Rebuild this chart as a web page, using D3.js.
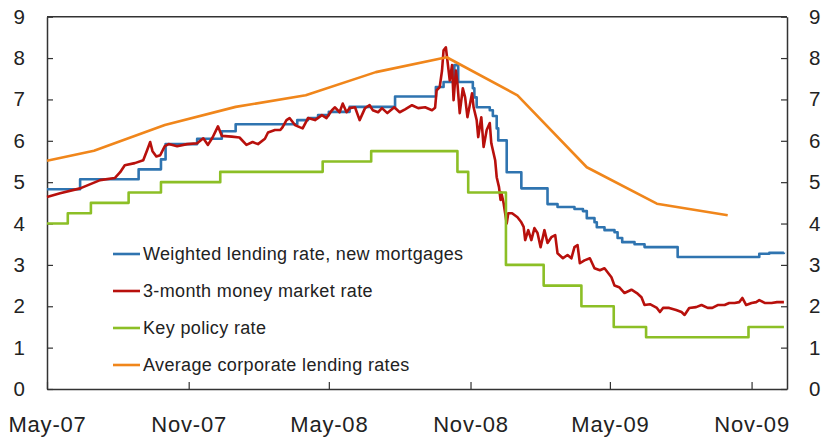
<!DOCTYPE html>
<html>
<head>
<meta charset="utf-8">
<script src="https://cdnjs.cloudflare.com/ajax/libs/d3/7.8.5/d3.min.js"></script>
<style>
  body { margin: 0; background: #fff; }
  svg { display: block; font-family: "Liberation Sans", Arial, sans-serif; }
</style>
</head>
<body>
<svg id="chart" width="825" height="443"></svg>
<script>
// Series data: [date, value]
const mortgageRate = [
  ["2007-05-01", 4.83], ["2007-06-13", 5.07], ["2007-08-28", 5.31], ["2007-09-26", 5.55],
  ["2007-10-02", 5.92], ["2007-11-12", 6.05], ["2007-12-14", 6.23], ["2008-01-01", 6.40],
  ["2008-03-21", 6.50], ["2008-04-04", 6.55], ["2008-04-17", 6.62], ["2008-05-01", 6.70],
  ["2008-05-28", 6.82], ["2008-07-26", 7.07], ["2008-09-17", 7.30], ["2008-09-27", 7.42],
  ["2008-10-11", 7.83], ["2008-10-16", 7.42], ["2008-11-04", 7.27], ["2008-11-06", 7.05],
  ["2008-11-09", 6.81], ["2008-11-26", 6.74], ["2008-11-30", 6.60], ["2008-12-05", 6.30],
  ["2008-12-07", 6.01], ["2008-12-18", 5.24], ["2009-01-06", 4.85], ["2009-02-09", 4.47],
  ["2009-02-22", 4.40], ["2009-03-16", 4.35], ["2009-03-27", 4.30], ["2009-04-01", 4.13],
  ["2009-04-11", 4.03], ["2009-04-14", 3.91], ["2009-04-24", 3.84], ["2009-05-07", 3.79],
  ["2009-05-11", 3.65], ["2009-05-17", 3.55], ["2009-06-02", 3.50], ["2009-06-15", 3.43],
  ["2009-07-28", 3.19], ["2009-11-01", 3.19], ["2009-11-11", 3.27], ["2009-11-24", 3.29],
  ["2009-12-13", 3.30]
];

const moneyMarketRate = [
  ["2007-05-01", 4.64], ["2007-05-18", 4.73], ["2007-06-13", 4.85], ["2007-07-09", 5.05],
  ["2007-07-28", 5.10], ["2007-08-04", 5.24], ["2007-08-10", 5.41], ["2007-08-23", 5.46],
  ["2007-09-03", 5.53], ["2007-09-08", 5.77], ["2007-09-12", 5.97], ["2007-09-15", 5.75],
  ["2007-09-20", 5.62], ["2007-09-25", 5.65], ["2007-10-01", 5.87], ["2007-10-06", 5.92],
  ["2007-10-17", 5.87], ["2007-10-30", 5.92], ["2007-11-12", 5.94], ["2007-11-20", 6.06],
  ["2007-11-26", 5.90], ["2007-12-02", 6.08], ["2007-12-09", 6.35], ["2007-12-14", 6.12],
  ["2007-12-27", 6.10], ["2008-01-06", 6.08], ["2008-01-15", 5.90], ["2008-01-23", 5.97],
  ["2008-01-30", 5.92], ["2008-02-08", 6.05], ["2008-02-12", 6.20], ["2008-02-21", 6.26],
  ["2008-02-28", 6.26], ["2008-03-02", 6.33], ["2008-03-07", 6.50], ["2008-03-11", 6.55],
  ["2008-03-18", 6.38], ["2008-03-24", 6.33], ["2008-03-28", 6.30], ["2008-04-04", 6.55],
  ["2008-04-13", 6.50], ["2008-04-22", 6.62], ["2008-04-28", 6.55], ["2008-05-05", 6.74],
  ["2008-05-09", 6.81], ["2008-05-15", 6.69], ["2008-05-19", 6.90], ["2008-05-24", 6.69],
  ["2008-05-28", 6.79], ["2008-06-04", 6.81], ["2008-06-10", 6.50], ["2008-06-17", 6.79],
  ["2008-06-23", 6.86], ["2008-06-27", 6.74], ["2008-07-04", 6.69], ["2008-07-09", 6.79],
  ["2008-07-16", 6.67], ["2008-07-25", 6.81], ["2008-08-01", 6.69], ["2008-08-08", 6.76],
  ["2008-08-17", 6.86], ["2008-08-25", 6.79], ["2008-09-03", 6.81], ["2008-09-12", 6.74],
  ["2008-09-16", 6.80], ["2008-09-18", 7.22], ["2008-09-22", 7.30], ["2008-09-25", 7.70],
  ["2008-09-27", 8.19], ["2008-09-30", 8.26], ["2008-10-03", 7.78], ["2008-10-05", 7.46],
  ["2008-10-08", 7.83], ["2008-10-10", 6.98], ["2008-10-13", 7.70], ["2008-10-15", 7.39],
  ["2008-10-18", 6.67], ["2008-10-22", 7.27], ["2008-10-25", 7.05], ["2008-10-28", 6.57],
  ["2008-11-03", 7.15], ["2008-11-05", 6.81], ["2008-11-09", 6.50], ["2008-11-11", 6.09],
  ["2008-11-15", 6.57], ["2008-11-18", 5.85], ["2008-11-22", 6.26], ["2008-11-26", 6.43],
  ["2008-11-28", 5.94], ["2008-12-03", 5.53], ["2008-12-05", 5.12], ["2008-12-08", 4.88],
  ["2008-12-10", 4.57], ["2008-12-11", 4.75], ["2008-12-14", 4.49], ["2008-12-18", 4.00],
  ["2008-12-20", 4.25], ["2008-12-25", 4.25], ["2009-01-01", 4.15], ["2009-01-06", 4.03],
  ["2009-01-09", 3.92], ["2009-01-11", 3.60], ["2009-01-15", 3.84], ["2009-01-19", 3.60],
  ["2009-01-23", 3.89], ["2009-01-27", 3.77], ["2009-01-31", 3.43], ["2009-02-05", 3.84],
  ["2009-02-09", 3.53], ["2009-02-14", 3.67], ["2009-02-19", 3.72], ["2009-02-22", 3.28],
  ["2009-03-01", 3.16], ["2009-03-07", 3.24], ["2009-03-12", 3.16], ["2009-03-16", 3.43],
  ["2009-03-20", 3.48], ["2009-03-23", 3.04], ["2009-03-29", 3.11], ["2009-04-05", 3.16],
  ["2009-04-11", 2.92], ["2009-04-18", 2.87], ["2009-04-24", 2.92], ["2009-05-03", 2.70],
  ["2009-05-07", 2.50], ["2009-05-13", 2.46], ["2009-05-20", 2.32], ["2009-05-29", 2.40],
  ["2009-06-05", 2.32], ["2009-06-11", 2.22], ["2009-06-15", 2.03], ["2009-06-22", 2.05],
  ["2009-07-01", 1.96], ["2009-07-05", 1.86], ["2009-07-09", 1.96], ["2009-07-17", 1.96],
  ["2009-07-26", 1.91], ["2009-08-02", 1.86], ["2009-08-06", 1.79], ["2009-08-12", 1.96],
  ["2009-08-21", 1.98], ["2009-08-28", 2.03], ["2009-09-05", 1.96], ["2009-09-11", 1.96],
  ["2009-09-18", 2.03], ["2009-09-27", 2.03], ["2009-10-03", 2.08], ["2009-10-10", 2.08],
  ["2009-10-16", 2.10], ["2009-10-20", 2.20], ["2009-10-25", 2.03], ["2009-11-01", 2.08],
  ["2009-11-07", 2.10], ["2009-11-11", 2.15], ["2009-11-18", 2.08], ["2009-11-27", 2.08],
  ["2009-12-04", 2.10], ["2009-12-13", 2.10]
];

const keyPolicyRate = [
  ["2007-05-01", 4.00], ["2007-05-28", 4.25], ["2007-06-27", 4.50], ["2007-08-15", 4.75],
  ["2007-09-26", 5.00], ["2007-12-12", 5.25], ["2008-04-23", 5.50], ["2008-06-25", 5.75],
  ["2008-10-15", 5.25], ["2008-10-29", 4.75], ["2008-12-17", 3.00], ["2009-02-04", 2.50],
  ["2009-03-25", 2.00], ["2009-05-06", 1.50], ["2009-06-17", 1.25], ["2009-10-28", 1.50],
  ["2009-12-13", 1.50]
];

const corporateRate = [
  ["2007-05-01", 5.52], ["2007-07-01", 5.76], ["2007-10-01", 6.38], ["2008-01-01", 6.82],
  ["2008-04-01", 7.10], ["2008-07-01", 7.66], ["2008-10-01", 8.02], ["2009-01-01", 7.10],
  ["2009-04-01", 5.36], ["2009-07-01", 4.48], ["2009-10-01", 4.20]
];

const xTicks = ["2007-05-01", "2007-11-01", "2008-05-01", "2008-11-01", "2009-05-01", "2009-11-01"];
const yTicks = [0, 1, 2, 3, 4, 5, 6, 7, 8, 9];

const parse = d3.timeParse("%Y-%m-%d");
const fmt = d3.timeFormat("%b-%y");

const svg = d3.select("#chart");
const plotLeft = 47, plotRight = 787, plotTop = 16.7, plotBottom = 389;

const x = d3.scaleTime()
  .domain([parse("2007-05-01"), parse("2009-12-17")])
  .range([plotLeft, plotRight]);
const y = d3.scaleLinear().domain([0, 9]).range([plotBottom, plotTop]);

const series = [
  { name: "Weighted lending rate, new mortgages", data: mortgageRate, color: "#2f74b0", curve: d3.curveStepAfter },
  { name: "3-month money market rate", data: moneyMarketRate, color: "#b8100c", curve: d3.curveLinear },
  { name: "Key policy rate", data: keyPolicyRate, color: "#8cbf26", curve: d3.curveStepAfter },
  { name: "Average corporate lending rates", data: corporateRate, color: "#f0861b", curve: d3.curveLinear }
];

// Axes (inward ticks, box frame)
const axisColor = "#333";
const gBottom = svg.append("g").attr("transform", `translate(0,${plotBottom})`)
  .call(d3.axisBottom(x).tickValues(xTicks.map(parse)).tickFormat(fmt).tickSizeInner(-7).tickSizeOuter(0).tickPadding(27));
const gLeft = svg.append("g").attr("transform", `translate(${plotLeft},0)`)
  .call(d3.axisLeft(y).tickValues(yTicks).tickSizeInner(-6).tickSizeOuter(0).tickPadding(22));
const gRight = svg.append("g").attr("transform", `translate(${plotRight},0)`)
  .call(d3.axisRight(y).tickValues(yTicks).tickSizeInner(-6).tickSizeOuter(0).tickPadding(22));

[gBottom, gLeft, gRight].forEach(g => {
  g.select(".domain").attr("stroke", axisColor).attr("stroke-width", 1.5);
  g.selectAll(".tick line").attr("stroke", axisColor).attr("stroke-width", 1.2);
  g.selectAll(".tick text").attr("fill", "#222").attr("font-family", "Liberation Sans, Arial, sans-serif");
});
gBottom.selectAll(".tick text").attr("font-size", 22).attr("letter-spacing", "0.8px");
gLeft.selectAll(".tick text").attr("font-size", 20.5);
gRight.selectAll(".tick text").attr("font-size", 20.5);

svg.append("line")
  .attr("x1", plotLeft).attr("x2", plotRight).attr("y1", plotTop).attr("y2", plotTop)
  .attr("stroke", axisColor).attr("stroke-width", 1.5);

// Lines
series.forEach(s => {
  const line = d3.line()
    .x(d => x(parse(d[0])))
    .y(d => y(d[1]))
    .curve(s.curve);
  svg.append("path")
    .datum(s.data)
    .attr("fill", "none")
    .attr("stroke", s.color)
    .attr("stroke-width", 2.6)
    .attr("stroke-linejoin", "round")
    .attr("d", line);
});

// Legend
const legend = svg.append("g").attr("transform", "translate(113,254)");
series.forEach((s, i) => {
  const g = legend.append("g").attr("transform", `translate(0,${i * 37})`);
  g.append("line").attr("x1", 0).attr("x2", 27).attr("y1", 0).attr("y2", 0)
    .attr("stroke", s.color).attr("stroke-width", 2.6);
  g.append("text").attr("x", 30).attr("y", 0).attr("dy", "0.35em")
    .attr("font-size", 18).attr("letter-spacing", "0.35px").attr("fill", "#222").text(s.name);
});
</script>
</body>
</html>
